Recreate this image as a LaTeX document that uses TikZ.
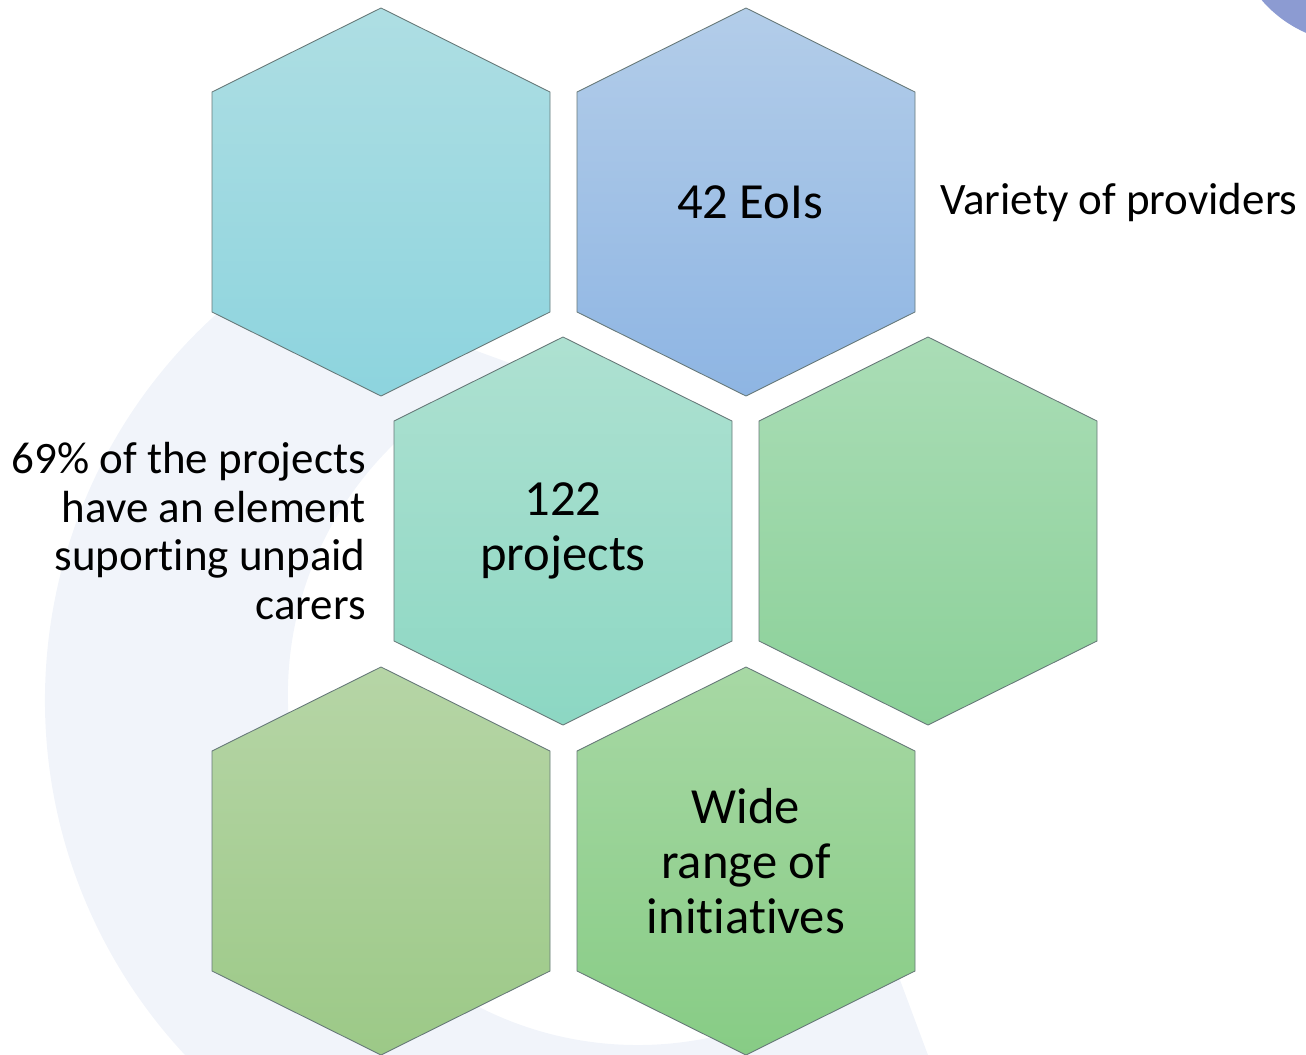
\documentclass[tikz,border=0pt]{standalone}
\usepackage{fontspec}
\setmainfont{Carlito}[Ligatures=NoCommon]
\definecolor{hexline}{HTML}{667878}
\definecolor{swirl}{HTML}{F1F4FA}
\definecolor{blob}{HTML}{8C9BD2}
\definecolor{tealtop}{HTML}{AEDEE3}
\definecolor{tealbot}{HTML}{8DD4DE}
\definecolor{bluetop}{HTML}{B3CDE9}
\definecolor{bluebot}{HTML}{8EB5E3}
\definecolor{minttop}{HTML}{AEE1D1}
\definecolor{mintbot}{HTML}{8CD7C3}
\definecolor{greentop}{HTML}{AADDB6}
\definecolor{greenbot}{HTML}{8BD098}
\definecolor{olivetop}{HTML}{B6D5A6}
\definecolor{olivebot}{HTML}{9CC987}
\definecolor{leaftop}{HTML}{A7D8A4}
\definecolor{leafbot}{HTML}{87CC85}
% hexagon around a centre: #1,#2 centre, #3 top colour, #4 bottom colour
\newcommand{\hexcell}[4]{%
  \draw [hexa, top color=#3, bottom color=#4] (#1, #2-194) -- (#1+169, #2-110)
    -- (#1+169, #2+110) -- (#1, #2+194) -- (#1-169, #2+110) -- (#1-169, #2-110) -- cycle;}
\begin{document}
\begin{tikzpicture}[x=0.02cm, y=-0.02cm,
    hexa/.style={draw=hexline, line width=0.5pt},
    bigtxt/.style={inner sep=0pt, align=center, font=\fontsize{28.8}{31.5}\selectfont},
    sidetxt/.style={inner sep=0pt, font=\fontsize{25.6}{27.8}\selectfont}]
    \useasboundingbox (0, 0) rectangle (1306, 1055);
    \clip (0, 0) rectangle (1306, 1055);

    % background swirl and corner blob
    \fill [swirl] (565, 700) ++(235:520) arc (235:45:520) -- (900, 980)
        -- (906, 920) arc (40:250:350) -- cycle;
    \fill [blob] (1355, -80) circle (123);

    % hexagons
    \hexcell{381}{202}{tealtop}{tealbot}
    \hexcell{746}{202}{bluetop}{bluebot}
    \hexcell{563}{531}{minttop}{mintbot}
    \hexcell{928}{531}{greentop}{greenbot}
    \hexcell{381}{861}{olivetop}{olivebot}
    \hexcell{746}{861}{leaftop}{leafbot}

    % texts
    \node [bigtxt] at (750, 202) (eois) {42 EoIs};
    \node [bigtxt] at (563, 531) (projects) {122\\projects};
    \node [bigtxt] at (746, 861) (initiatives) {Wide\\range of\\initiatives};
    \node [sidetxt, anchor=west] at (940, 203) (providers) {Variety of providers};
    \node [sidetxt, anchor=east, align=right] at (366, 531) (carers) {69\% of the projects\\have an element\\suporting unpaid\\carers};
\end{tikzpicture}
\end{document}
